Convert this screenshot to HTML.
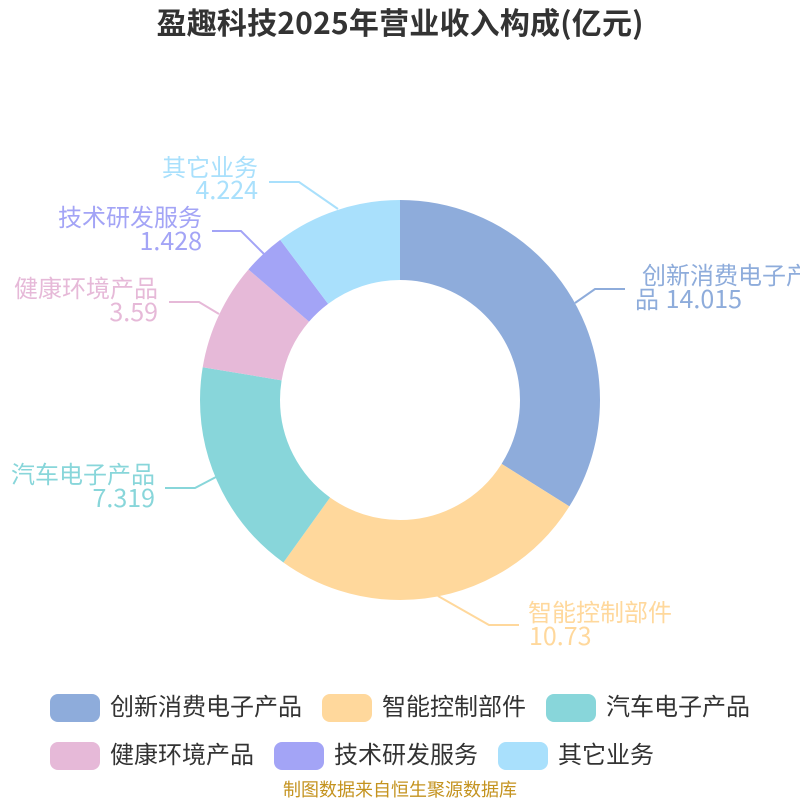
<!DOCTYPE html>
<html><head><meta charset="utf-8">
<style>
html,body{margin:0;padding:0;background:#fff;width:800px;height:800px;overflow:hidden}
svg{display:block}
text{font-family:"Noto Sans CJK SC","Liberation Sans",sans-serif;font-size:24px}
.n{font-size:25px}
</style></head>
<body>
<svg width="800" height="800" viewBox="0 0 800 800" xmlns="http://www.w3.org/2000/svg">
<rect width="800" height="800" fill="#fff"/>
<text x="400" y="34" text-anchor="middle" textLength="487" lengthAdjust="spacing" style="font-size:30px;font-weight:bold" fill="#333">盈趣科技2025年营业收入构成(亿元)</text>
<g fill="none" stroke-width="80" transform="rotate(-90 400 400)">
<circle cx="400" cy="400" r="160" pathLength="41.306" stroke="#8eacdb" stroke-dasharray="14.015 27.291" stroke-dashoffset="0"/>
<circle cx="400" cy="400" r="160" pathLength="41.306" stroke="#ffd89c" stroke-dasharray="10.73 30.576" stroke-dashoffset="-14.015"/>
<circle cx="400" cy="400" r="160" pathLength="41.306" stroke="#88d6da" stroke-dasharray="7.319 33.987" stroke-dashoffset="-24.745"/>
<circle cx="400" cy="400" r="160" pathLength="41.306" stroke="#e6b9d8" stroke-dasharray="3.59 37.716" stroke-dashoffset="-32.064"/>
<circle cx="400" cy="400" r="160" pathLength="41.306" stroke="#a3a4f6" stroke-dasharray="1.428 39.878" stroke-dashoffset="-35.654"/>
<circle cx="400" cy="400" r="160" pathLength="41.306" stroke="#a9e0fc" stroke-dasharray="4.224 37.082" stroke-dashoffset="-37.082"/>
</g>
<g fill="none" stroke-width="2">
<polyline points="575,303 595,289 625,289" stroke="#8eacdb"/>
<polyline points="438,596 489,625 519,625" stroke="#ffd89c"/>
<polyline points="216,477 195,488 165,488" stroke="#88d6da"/>
<polyline points="219,314 199,302 169,302" stroke="#e6b9d8"/>
<polyline points="264,254 241,231 212,231" stroke="#a3a4f6"/>
<polyline points="338,209 299,182 269,182" stroke="#a9e0fc"/>
</g>
<g fill="#8eacdb">
<text x="642" y="284">创新消费电子产品</text>
<text x="635" y="308">品</text>
<text class="n" x="742" y="308" text-anchor="end">14.015</text>
</g>
<g fill="#ffd89c">
<text x="528" y="621">智能控制部件</text>
<text class="n" x="529" y="645">10.73</text>
</g>
<g fill="#88d6da" text-anchor="end">
<text x="155" y="483">汽车电子产品</text>
<text class="n" x="155" y="507">7.319</text>
</g>
<g fill="#e6b9d8" text-anchor="end">
<text x="158" y="297">健康环境产品</text>
<text class="n" x="158" y="321">3.59</text>
</g>
<g fill="#a3a4f6" text-anchor="end">
<text x="202" y="226">技术研发服务</text>
<text class="n" x="202" y="250">1.428</text>
</g>
<g fill="#a9e0fc" text-anchor="end">
<text x="258" y="176">其它业务</text>
<text class="n" x="258" y="199">4.224</text>
</g>
<rect x="50" y="694" width="50" height="28" rx="8" fill="#8eacdb"/>
<rect x="322" y="694" width="50" height="28" rx="8" fill="#ffd89c"/>
<rect x="546" y="694" width="50" height="28" rx="8" fill="#88d6da"/>
<rect x="50" y="742" width="50" height="28" rx="8" fill="#e6b9d8"/>
<rect x="274" y="742" width="50" height="28" rx="8" fill="#a3a4f6"/>
<rect x="498" y="742" width="50" height="28" rx="8" fill="#a9e0fc"/>
<g fill="#333">
<text x="110" y="715">创新消费电子产品</text>
<text x="382" y="715">智能控制部件</text>
<text x="606" y="715">汽车电子产品</text>
<text x="110" y="763">健康环境产品</text>
<text x="334" y="763">技术研发服务</text>
<text x="558" y="763">其它业务</text>
</g>
<text x="400" y="796" text-anchor="middle" style="font-size:18px" fill="#c4931f">制图数据来自恒生聚源数据库</text>
</svg>
</body></html>
